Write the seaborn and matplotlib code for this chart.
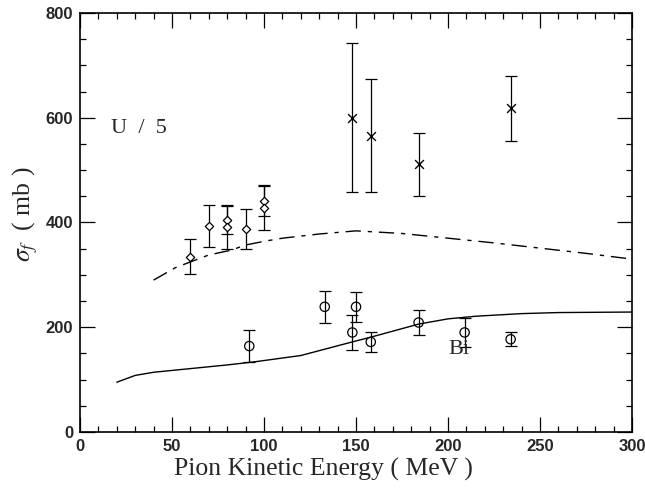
import matplotlib
matplotlib.use("Agg")
import matplotlib.pyplot as plt
import seaborn as sns
from matplotlib.ticker import MultipleLocator

# U / 5 data (diamonds)
diamond_x = [60, 70, 80, 80, 90, 100, 100]
diamond_y = [335, 393, 405, 392, 387, 441, 428]
diamond_err = [34, 40, 27, 42, 38, 29, 43]

# U / 5 data (crosses)
cross_x = [148, 158, 184, 234]
cross_y = [600, 566, 511, 618]
cross_err = [142, 107, 60, 62]

# Bi data (circles)
circle_x = [92, 133, 148, 150, 158, 184, 209, 234]
circle_y = [164, 239, 190, 239, 172, 209, 190, 177]
circle_err = [31, 30, 33, 29, 19, 23, 28, 13]

# calculations
bi_x = [20, 30, 40, 60, 80, 95, 120, 148, 158, 184, 200, 215, 240, 260, 300]
bi_y = [95, 108, 114, 121, 128, 134, 146, 172, 181, 206, 216, 221, 226, 228, 229]
u_x = [40, 52, 70, 82, 90, 100, 110, 130, 150, 175, 200, 225, 250, 275, 300]
u_y = [290, 314, 338, 347, 357, 364, 370, 378, 384, 379, 370, 361, 351, 341, 330]

sns.set_style("ticks")
plt.rcParams['mathtext.fontset'] = 'stix'
serif = ['Liberation Serif', 'DejaVu Serif']

fig = plt.figure(figsize=(6.45, 4.88), dpi=100)
ax = fig.add_axes([0.124, 0.1148, 0.856, 0.8586])

sns.lineplot(x=bi_x, y=bi_y, ax=ax, color='black', lw=1.0, sort=False, estimator=None)
sns.lineplot(x=u_x, y=u_y, ax=ax, color='black', lw=1.0, sort=False, estimator=None,
             linestyle=(0, (11, 5, 3, 5)))

err_kw = dict(fmt='none', ecolor='black', elinewidth=0.9, capsize=4.5, capthick=0.9)
ax.errorbar(diamond_x, diamond_y, yerr=diamond_err, **err_kw)
ax.errorbar(cross_x, cross_y, yerr=cross_err, **err_kw)
ax.errorbar(circle_x, circle_y, yerr=circle_err, **err_kw)

sns.scatterplot(x=diamond_x, y=diamond_y, ax=ax, marker='D', s=18,
                facecolor='white', edgecolor='black', linewidth=0.9, zorder=3)
sns.scatterplot(x=cross_x, y=cross_y, ax=ax, marker='x', s=40,
                color='black', linewidth=1.0, zorder=3)
sns.scatterplot(x=circle_x, y=circle_y, ax=ax, marker='o', s=45,
                facecolor='none', edgecolor='black', linewidth=0.9, zorder=3)

ax.text(17, 580, 'U  /  5', family=serif, fontsize=16, va='center', ha='left')
ax.text(200, 158, 'Bi', family=serif, fontsize=16, va='center', ha='left')

ax.set_xlim(0, 300)
ax.set_ylim(0, 800)
ax.xaxis.set_major_locator(MultipleLocator(50))
ax.xaxis.set_minor_locator(MultipleLocator(10))
ax.yaxis.set_major_locator(MultipleLocator(200))
ax.yaxis.set_minor_locator(MultipleLocator(50))
ax.tick_params(which='both', direction='in', top=True, right=True, color='black',
               labelsize=12, pad=5)
ax.tick_params(which='major', length=11, width=0.9)
ax.tick_params(which='minor', length=4, width=0.9)
for lab in ax.get_xticklabels() + ax.get_yticklabels():
    lab.set_family(['Liberation Sans', 'DejaVu Sans'])
    lab.set_fontweight('semibold')
for sp in ax.spines.values():
    sp.set_linewidth(1.2)
    sp.set_color('black')

ax.set_xlabel('Pion Kinetic Energy ( MeV )', family=serif, fontsize=18.5)
ax.xaxis.set_label_coords((323 - 80) / 552, -0.062)
ax.set_ylabel(r'$\sigma_f$  ( mb )', family=serif, fontsize=18.5)
ax.yaxis.set_label_coords(-0.072, 0.52)

fig.savefig('out.png', dpi=100)
